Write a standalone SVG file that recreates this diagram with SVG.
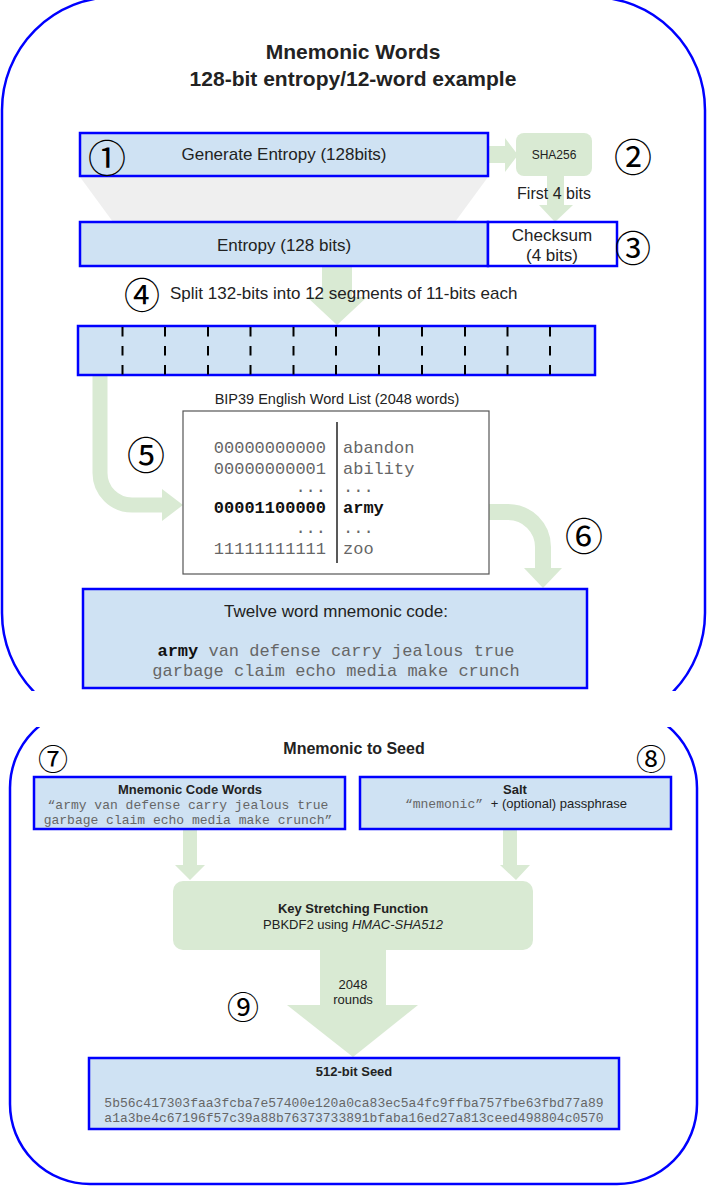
<svg xmlns="http://www.w3.org/2000/svg" width="707" height="1186" viewBox="0 0 707 1186">
<style>
.frame{fill:none;stroke:#0000ff;stroke-width:2.5}
.blue{fill:#cfe2f3;stroke:#0000ff;stroke-width:2.5}
.white{fill:#ffffff;stroke:#0000ff;stroke-width:2.5}
.green{fill:#d9ead3;stroke:none}
.gstroke{fill:none;stroke:#d9ead3}
.sans{font-family:"Liberation Sans",Arial,sans-serif;fill:#222}
.bold{font-weight:bold}
.mono{font-family:"Liberation Mono","Courier New",monospace;fill:#666}
.num{font-family:"Noto Sans CJK JP","DejaVu Sans",sans-serif;fill:#000}
.dash{stroke:#000;stroke-width:2;stroke-dasharray:9.5 9.5}
</style>
<defs>
<clipPath id="clipTop"><rect x="0" y="0" width="707" height="691"/></clipPath>
<clipPath id="clipBot"><rect x="0" y="727" width="707" height="459"/></clipPath>
</defs>
<rect width="707" height="1186" fill="#ffffff"/>

<g id="frame-top" clip-path="url(#clipTop)">
<rect class="frame" x="2" y="-3" width="703" height="729" rx="113" ry="113"/>
</g>
<g id="frame-bottom" clip-path="url(#clipBot)">
<rect class="frame" x="10" y="708" width="687" height="476" rx="80" ry="80"/>
</g>

<g id="titles">
<text class="sans bold" x="353" y="59" font-size="21" text-anchor="middle" fill="#000">Mnemonic Words</text>
<text class="sans bold" x="353" y="86" font-size="21" text-anchor="middle" fill="#000">128-bit entropy/12-word example</text>
<text class="sans bold" x="354" y="754" font-size="16" text-anchor="middle">Mnemonic to Seed</text>
</g>

<g id="connectors">
<polygon id="funnel" points="80,177 488,177 455,222 113,222" fill="#efefef"/>
<polygon class="green" points="488,146 505,146 505,138 518,155 505,172 505,163 488,163"/>
<polygon class="green" points="547,176 564,176 564,205 573,205 555,222 539,205 547,205"/>
<polygon class="green" points="322,267 352,267 352,297 367,297 337,325 307,297 322,297"/>
<path class="gstroke" d="M100,375 V473 A32,32 0 0 0 132,505 H164" stroke-width="15"/>
<polygon class="green" points="162,489 183,505 162,521"/>
<path class="gstroke" d="M489,512 H508 A35,35 0 0 1 543,547 V569" stroke-width="16"/>
<polygon class="green" points="524,568 543,588 562,568"/>
<polygon class="green" points="183,829 197,829 197,865 205,865 190,880 175,865 183,865"/>
<polygon class="green" points="503,829 517,829 517,865 530,865 516,880 500,865 503,865"/>
<polygon class="green" points="320,949 386,949 386,1005 418,1005 353,1057 287,1005 320,1005"/>
</g>

<g id="n1-generate">
<rect class="blue" x="80" y="133" width="408" height="43"/>
<text class="sans" x="284" y="160" font-size="17" text-anchor="middle">Generate Entropy (128bits)</text>
<text class="num" x="107" y="155" font-size="38" text-anchor="middle" dominant-baseline="central">①</text>
</g>

<g id="n2-sha256">
<rect class="green" x="516" y="133" width="76" height="43" rx="8"/>
<text class="sans" x="554" y="159" font-size="12" text-anchor="middle">SHA256</text>
<text class="num" x="633" y="154" font-size="38" text-anchor="middle" dominant-baseline="central">②</text>
<text class="sans" x="554" y="199" font-size="16" text-anchor="middle">First 4 bits</text>
</g>

<g id="n3-entropy">
<rect class="blue" x="80" y="222" width="408" height="44"/>
<text class="sans" x="284" y="251" font-size="17" text-anchor="middle">Entropy (128 bits)</text>
<rect class="white" x="488" y="222" width="129" height="44"/>
<text class="sans" x="552" y="241" font-size="17" text-anchor="middle">Checksum</text>
<text class="sans" x="552" y="261" font-size="17" text-anchor="middle">(4 bits)</text>
<text class="num" x="633" y="246" font-size="36" text-anchor="middle" dominant-baseline="central">③</text>
</g>

<g id="n4-split">
<text class="num" x="142" y="293" font-size="36" text-anchor="middle" dominant-baseline="central">④</text>
<text class="sans" x="170" y="299" font-size="17">Split 132-bits into 12 segments of 11-bits each</text>
<rect class="blue" x="78" y="326" width="517" height="49"/>
<line class="dash" x1="122.5" y1="327" x2="122.5" y2="375"/>
<line class="dash" x1="165" y1="327" x2="165" y2="375"/>
<line class="dash" x1="208" y1="327" x2="208" y2="375"/>
<line class="dash" x1="250.5" y1="327" x2="250.5" y2="375"/>
<line class="dash" x1="293.5" y1="327" x2="293.5" y2="375"/>
<line class="dash" x1="336" y1="327" x2="336" y2="375"/>
<line class="dash" x1="379" y1="327" x2="379" y2="375"/>
<line class="dash" x1="422" y1="327" x2="422" y2="375"/>
<line class="dash" x1="465" y1="327" x2="465" y2="375"/>
<line class="dash" x1="507.5" y1="327" x2="507.5" y2="375"/>
<line class="dash" x1="550" y1="327" x2="550" y2="375"/>
</g>

<g id="n5-wordlist">
<text class="num" x="146" y="452" font-size="38" text-anchor="middle" dominant-baseline="central">⑤</text>
<text class="sans" x="337" y="404" font-size="14.5" text-anchor="middle">BIP39 English Word List (2048 words)</text>
<rect x="183" y="411" width="306" height="163" fill="#ffffff" stroke="#555" stroke-width="1.2"/>
<line x1="337" y1="422" x2="337" y2="563" stroke="#222" stroke-width="1.5"/>
<g class="mono" font-size="17">
<text x="326" y="453" text-anchor="end">00000000000</text>
<text x="326" y="474" text-anchor="end">00000000001</text>
<text x="326" y="492" text-anchor="end">...</text>
<text x="326" y="513" text-anchor="end" font-weight="bold" fill="#111">00001100000</text>
<text x="326" y="533" text-anchor="end">...</text>
<text x="326" y="554" text-anchor="end">11111111111</text>
<text x="343" y="453">abandon</text>
<text x="343" y="474">ability</text>
<text x="343" y="492">...</text>
<text x="343" y="513" font-weight="bold" fill="#111">army</text>
<text x="343" y="533">...</text>
<text x="343" y="554">zoo</text>
</g>
</g>

<g id="n6-mnemonic">
<text class="num" x="584" y="533" font-size="38" text-anchor="middle" dominant-baseline="central">⑥</text>
<rect class="blue" x="83" y="589" width="504" height="99"/>
<text class="sans" x="336" y="617" font-size="17" text-anchor="middle">Twelve word mnemonic code:</text>
<text class="mono" x="336" y="656" font-size="17" text-anchor="middle"><tspan font-weight="bold" fill="#111">army</tspan> van defense carry jealous true</text>
<text class="mono" x="336" y="676" font-size="17" text-anchor="middle">garbage claim echo media make crunch</text>
</g>

<g id="n7-codewords">
<text class="num" x="53" y="757" font-size="30" text-anchor="middle" dominant-baseline="central">⑦</text>
<rect class="blue" x="34" y="777" width="311" height="52"/>
<text class="sans bold" x="190" y="794" font-size="13" text-anchor="middle">Mnemonic Code Words</text>
<text class="mono" x="188" y="809" font-size="13" text-anchor="middle">“army van defense carry jealous true</text>
<text class="mono" x="188" y="824" font-size="13" text-anchor="middle">garbage claim echo media make crunch”</text>
</g>

<g id="n8-salt">
<text class="num" x="651" y="757" font-size="30" text-anchor="middle" dominant-baseline="central">⑧</text>
<rect class="blue" x="360" y="777" width="311" height="52"/>
<text class="sans bold" x="515" y="794" font-size="13" text-anchor="middle">Salt</text>
<text x="516" y="808" font-size="13" text-anchor="middle"><tspan class="mono">“mnemonic” </tspan><tspan class="sans">+  (optional) passphrase</tspan></text>
</g>

<g id="n9-keystretch">
<rect class="green" x="173" y="881" width="360" height="69" rx="10"/>
<text class="sans bold" x="353" y="913" font-size="13" text-anchor="middle">Key Stretching Function</text>
<text class="sans" x="353" y="929" font-size="13" text-anchor="middle">PBKDF2 using <tspan font-style="italic">HMAC-SHA512</tspan></text>
<text class="sans" x="353" y="989" font-size="13" text-anchor="middle">2048</text>
<text class="sans" x="353" y="1004" font-size="13" text-anchor="middle">rounds</text>
<text class="num" x="243" y="1005" font-size="32" text-anchor="middle" dominant-baseline="central">⑨</text>
</g>

<g id="n10-seed">
<rect class="blue" x="89" y="1058" width="530" height="71"/>
<text class="sans bold" x="354" y="1076" font-size="13" text-anchor="middle">512-bit Seed</text>
<text class="mono" x="354" y="1107" font-size="13" text-anchor="middle">5b56c417303faa3fcba7e57400e120a0ca83ec5a4fc9ffba757fbe63fbd77a89</text>
<text class="mono" x="354" y="1122" font-size="13" text-anchor="middle">a1a3be4c67196f57c39a88b76373733891bfaba16ed27a813ceed498804c0570</text>
</g>
</svg>
